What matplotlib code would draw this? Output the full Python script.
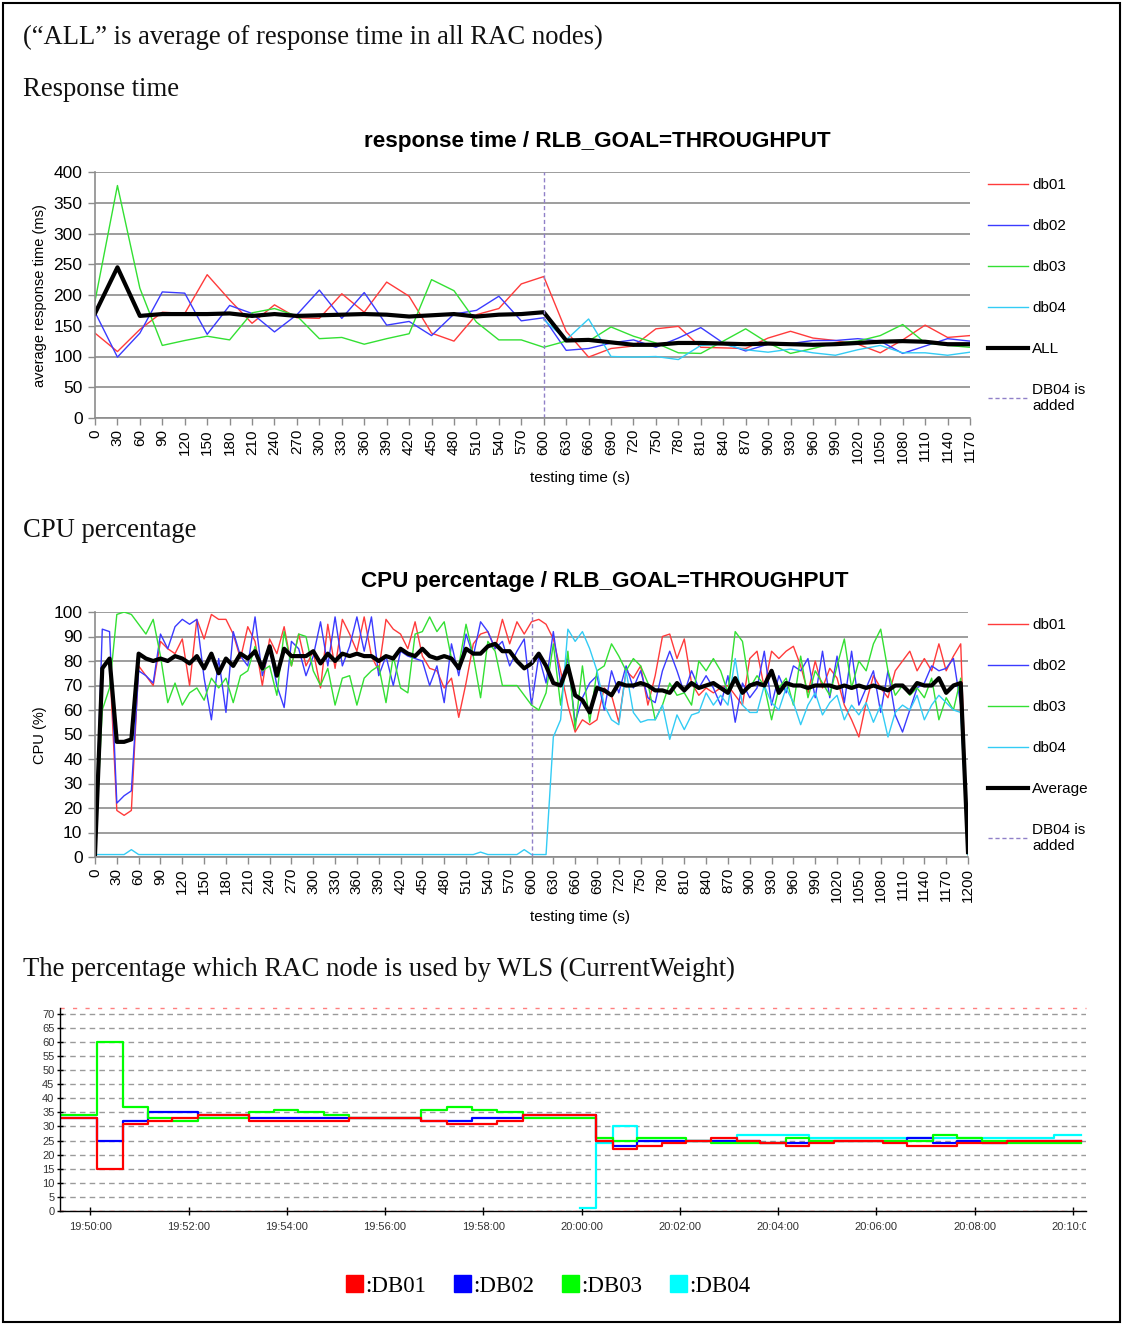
import numpy as np
import pandas as pd
import matplotlib
matplotlib.use("Agg")
import matplotlib.pyplot as plt
import matplotlib.dates as mdates
from matplotlib.patches import Rectangle, Patch
from matplotlib.transforms import Bbox, TransformedBbox

plt.rcParams['font.family'] = ['Liberation Sans', 'DejaVu Sans']
SERIF = ['Liberation Serif', 'DejaVu Serif']

W, H = 1122, 1324

# ---------------- response time (ms), one sample every 30 s ----------------
rt_time = list(range(0, 1200, 30))
rt_db01 = [138, 108, 144, 172, 170, 233, 192, 154, 184, 163, 162, 202, 172, 221, 198, 138, 125, 168, 178, 218,
           230, 141, 99, 113, 117, 145, 149, 115, 114, 113, 130, 141, 130, 126, 120, 106, 127, 151, 131, 134]
rt_db02 = [172, 99, 138, 205, 203, 136, 183, 170, 140, 168, 208, 162, 204, 151, 157, 134, 169, 175, 198, 158,
           163, 110, 113, 122, 127, 115, 130, 147, 122, 109, 120, 121, 126, 126, 129, 125, 105, 117, 129, 125]
rt_db03 = [190, 378, 211, 118, 126, 133, 127, 171, 178, 166, 129, 131, 120, 129, 137, 225, 207, 156, 127, 127,
           115, 125, 125, 148, 133, 122, 106, 105, 125, 145, 122, 105, 113, 122, 125, 134, 152, 122, 118, 115]
rt_db04 = [np.nan] * 20 + [160, 127, 161, 100, 99, 100, 95, 118, 120, 111,
                           107, 112, 106, 102, 111, 118, 106, 106, 102, 107]
rt_all = [170, 245, 166, 169, 169, 169, 170, 166, 169, 166, 167, 168, 169, 168, 165, 167, 169, 165, 168, 169,
          172, 126, 127, 123, 119, 119, 122, 122, 121, 120, 121, 120, 119, 120, 122, 124, 125, 124, 120, 120]

# ---------------- CPU percentage, one sample every 10 s ----------------
cpu_time = np.arange(0, 1201, 10)
cpu_db01 = [1, 78, 80, 19, 17, 19, 78, 74, 70, 88, 85, 83, 89, 70, 97, 89, 99, 97, 97, 91,
            81, 94, 88, 70, 89, 83, 94, 78, 91, 78, 84,
            69, 95, 77, 97, 91, 84, 98, 82, 76, 97, 93, 91, 85, 96, 82, 77, 76, 69, 73, 57,
            71, 87, 91, 92, 85, 97, 87, 96, 91, 96,
            97, 95, 89, 76, 62, 51, 56, 54, 56, 69, 66, 55, 76, 73, 78, 62, 74, 90, 91, 81,
            89, 71, 66, 69, 67, 69, 70, 66, 62, 81,
            84, 69, 84, 81, 84, 86, 78, 67, 80, 69, 77, 73, 62, 56, 49, 63, 74, 69, 65, 76,
            80, 84, 76, 81, 76, 87, 76, 82, 87, 1]
cpu_db02 = [1, 93, 92, 22, 25, 27, 76, 74, 71, 91, 85, 94, 97, 95, 97, 73, 56, 81, 59, 92,
            82, 78, 98, 74, 85, 70, 61, 88, 85, 74, 82,
            96, 78, 98, 78, 86, 98, 84, 98, 74, 82, 70, 84, 82, 81, 80, 70, 78, 63, 87, 74,
            91, 82, 96, 92, 85, 88, 78, 84, 89, 62,
            82, 71, 92, 71, 81, 55, 65, 71, 74, 60, 76, 67, 78, 69, 76, 65, 63, 76, 84, 76,
            67, 76, 69, 74, 69, 62, 74, 55, 71, 65,
            69, 84, 62, 74, 67, 78, 76, 81, 65, 84, 65, 82, 63, 84, 62, 69, 76, 59, 76, 58,
            51, 60, 69, 71, 78, 76, 77, 81, 62, 1]
cpu_db03 = [1, 60, 69, 99, 100, 99, 95, 91, 97, 82, 63, 71, 62, 67, 69, 64, 73, 69, 73, 63,
            74, 76, 86, 76, 78, 66, 92, 78, 91, 90, 76,
            70, 77, 62, 73, 74, 62, 73, 76, 78, 63, 82, 69, 67, 91, 92, 98, 92, 96, 81, 78,
            95, 82, 65, 88, 84, 70, 70, 70, 66, 62,
            60, 67, 87, 62, 84, 52, 78, 55, 76, 78, 87, 82, 76, 81, 78, 71, 56, 62, 71, 66,
            67, 62, 80, 76, 81, 76, 67, 92, 88, 69,
            74, 70, 56, 69, 73, 62, 82, 65, 76, 71, 66, 78, 89, 69, 80, 76, 87, 93, 76, 66,
            70, 66, 69, 65, 73, 56, 65, 60, 73, 1]
cpu_db04 = [1, 1, 1, 1, 1, 3, 1, 1, 1, 1, 1, 1, 1, 1, 1, 1, 1, 1, 1, 1,
            1, 1, 1, 1, 1, 1, 1, 1, 1, 1, 1,
            1, 1, 1, 1, 1, 1, 1, 1, 1, 1, 1, 1, 1, 1, 1, 1, 1, 1, 1, 1,
            1, 1, 2, 1, 1, 1, 1, 1, 3, 1,
            1, 1, 49, 56, 93, 88, 92, 85, 76, 62, 56, 54, 76, 59, 55, 56, 56, 62, 48, 58,
            52, 58, 59, 67, 62, 66, 62, 81, 62, 59,
            59, 70, 63, 60, 69, 63, 54, 62, 67, 58, 63, 66, 56, 62, 58, 63, 55, 62, 49, 59,
            62, 60, 66, 56, 62, 66, 63, 60, 59, 1]
cpu_avg = [1, 77, 81, 47, 47, 48, 83, 81, 80, 81, 80, 82, 81, 79, 82, 77, 83, 75, 81, 78,
           83, 81, 84, 77, 86, 74, 85, 82, 82, 82, 84,
           79, 83, 80, 83, 82, 83, 82, 82, 80, 82, 81, 85, 83, 82, 85, 82, 81, 82, 81, 77,
           85, 83, 83, 86, 87, 84, 84, 80, 77, 79,
           83, 78, 71, 70, 78, 66, 64, 59, 69, 68, 66, 71, 70, 70, 71, 70, 68, 68, 67, 71,
           68, 71, 69, 70, 71, 69, 67, 73, 67, 70,
           71, 70, 76, 67, 71, 70, 70, 69, 70, 70, 70, 69, 70, 69, 70, 69, 70, 69, 68, 70,
           70, 67, 71, 70, 70, 73, 67, 70, 71, 2]

db04_added = 600  # s

# ---------------- CurrentWeight (%) per RAC node, value held until next change ----------------
wl_time = ["19:49:24", "19:50:08", "19:50:40", "19:51:10", "19:51:40", "19:52:12", "19:52:43", "19:53:14",
           "19:53:44", "19:54:14", "19:54:46", "19:55:16", "19:56:44", "19:57:16", "19:57:46", "19:58:17",
           "19:58:48", "19:59:16", "19:59:58", "20:00:17", "20:00:38", "20:01:08", "20:01:38", "20:02:08",
           "20:02:38", "20:03:10", "20:03:38", "20:04:10", "20:04:38", "20:05:08", "20:06:08", "20:06:38",
           "20:07:09", "20:07:39", "20:08:09", "20:08:39", "20:09:37", "20:10:10"]
wl_db01 = [33, 15, 31, 32, 33, 34, 34, 32, 32, 32, 32, 33, 32, 31, 31, 32, 34, 34, 34,
           25, 22, 23, 24, 25, 26, 25, 24, 23, 24, 25, 24, 23, 23, 24, 24, 25, 25, 25]
wl_db02 = [33, 25, 32, 35, 35, 34, 34, 33, 33, 33, 33, 33, 32, 32, 33, 33, 34, 34, 34,
           25, 23, 25, 25, 25, 25, 25, 24, 24, 25, 25, 25, 26, 24, 25, 24, 25, 25, 25]
wl_db03 = [34, 60, 37, 33, 32, 33, 33, 35, 36, 35, 34, 33, 36, 37, 36, 35, 33, 33, 33,
           26, 25, 26, 26, 25, 24, 24, 24, 26, 25, 25, 25, 25, 27, 26, 25, 24, 24, 24]
wl_db04 = [np.nan] * 18 + [1, 24, 30, 25, 25, 25, 25, 27, 27, 27, 26, 26, 26, 26, 26, 26, 26, 26, 27, 27]
wl_tick_labels_fmt = '%H:%M:%S'

c01, c02, c03, c04 = '#ff3b3b', '#3b3bff', '#33e033', '#33ccf5'
c_event = '#9080c8'

fig = plt.figure(figsize=(W / 100, H / 100), dpi=100)


def px_box(x0, y0, x1, y1):
    return [x0 / W, 1 - y1 / H, (x1 - x0) / W, (y1 - y0) / H]


def fy(y):
    return 1 - y / H


# page border and headings
fig.add_artist(Rectangle((3 / W, fy(1322)), 1117 / W, 1319 / H, transform=fig.transFigure,
                         fill=False, ec='black', lw=1.5))
for txt, y in [("(\u201cALL\u201d is average of response time in all RAC nodes)", 37),
               ("Response time", 90),
               ("CPU percentage", 530),
               ("The percentage which RAC node is used by WLS (CurrentWeight)", 969)]:
    fig.text(23 / W, fy(y), txt, family=SERIF, fontsize=19.2, va='center', ha='left', color='#111111')


def excel_style(ax, ymax, ystep):
    ax.set_ylim(0, ymax)
    ax.set_yticks(np.arange(0, ymax + 1, ystep))
    ax.grid(axis='y', color='#8c8c8c', lw=1.2)
    ax.set_axisbelow(True)
    for s in ['top', 'right']:
        ax.spines[s].set_visible(False)
    for s in ['left', 'bottom']:
        ax.spines[s].set_color('#8c8c8c')
        ax.spines[s].set_linewidth(1.2)
    ax.tick_params(axis='both', color='#8c8c8c', length=5, width=1, labelcolor='black')
    ax.tick_params(axis='y', labelsize=12.5, pad=4)
    ax.tick_params(axis='x', labelsize=11, labelrotation=90, pad=3)


def right_legend(ax, top_px):
    ax.legend(loc='upper left', bbox_to_anchor=(988 / W, fy(top_px)), bbox_transform=fig.transFigure,
              frameon=False, fontsize=11, labelspacing=1.77, handlelength=2.6, handletextpad=0.3,
              borderpad=0, borderaxespad=0)


# ---------------- chart 1: response time ----------------
ax1 = fig.add_axes(px_box(95, 172, 970, 418))
ax1.plot(rt_time, rt_db01, color=c01, lw=1, label='db01')
ax1.plot(rt_time, rt_db02, color=c02, lw=1, label='db02')
ax1.plot(rt_time, rt_db03, color=c03, lw=1, label='db03')
ax1.plot(rt_time, rt_db04, color=c04, lw=1, label='db04')
ax1.plot(rt_time, rt_all, color='black', lw=3, label='ALL')
ax1.axvline(db04_added, color=c_event, ls=(0, (3, 2)), lw=1, label='DB04 is\nadded')
ax1.set_xlim(rt_time[0], rt_time[-1])
excel_style(ax1, 400, 50)
ax1.set_xticks(rt_time)
right_legend(ax1, 178)
fig.text(597 / W, fy(141), "response time / RLB_GOAL=THROUGHPUT", ha='center', va='center',
         fontsize=16.2, weight='bold')
fig.text(40 / W, fy(296), "average response time (ms)", rotation=90, ha='center', va='center', fontsize=10.5)
fig.text(580 / W, fy(478), "testing time (s)", ha='center', va='center', fontsize=11)

# ---------------- chart 2: CPU ----------------
ax2 = fig.add_axes(px_box(95, 612, 968, 857))
ax2.plot(cpu_time, cpu_db01, color=c01, lw=1, label='db01')
ax2.plot(cpu_time, cpu_db02, color=c02, lw=1, label='db02')
ax2.plot(cpu_time, cpu_db03, color=c03, lw=1, label='db03')
ax2.plot(cpu_time, cpu_db04, color=c04, lw=1, label='db04')
ax2.plot(cpu_time, cpu_avg, color='black', lw=3, label='Average')
ax2.axvline(db04_added, color=c_event, ls=(0, (3, 2)), lw=1, label='DB04 is\nadded')
ax2.set_xlim(cpu_time[0], cpu_time[-1])
excel_style(ax2, 100, 10)
ax2.set_xticks(np.arange(0, 1201, 30))
right_legend(ax2, 618)
fig.text(605 / W, fy(581), "CPU percentage / RLB_GOAL=THROUGHPUT", ha='center', va='center',
         fontsize=16.2, weight='bold')
fig.text(40 / W, fy(735), "CPU (%)", rotation=90, ha='center', va='center', fontsize=10.5)
fig.text(580 / W, fy(917), "testing time (s)", ha='center', va='center', fontsize=11)

# ---------------- chart 3: CurrentWeight ----------------
ax3 = fig.add_axes(px_box(60, 1008, 1086, 1211))
wl_t = pd.to_datetime(wl_time, format='%H:%M:%S')
ax3.step(wl_t, wl_db04, where='post', color='#00ffff', lw=1.6)
ax3.step(wl_t, wl_db02, where='post', color='#0000ff', lw=1.6)
ax3.step(wl_t, wl_db03, where='post', color='#00ff00', lw=1.6)
ax3.step(wl_t, wl_db01, where='post', color='#ff0000', lw=1.6)
ax3.set_xlim(pd.Timestamp('1900-01-01 19:49:23'), pd.Timestamp('1900-01-01 20:10:16'))
ax3.set_ylim(0, 72)
ax3.set_yticks(np.arange(0, 71, 5))
ax3.grid(axis='y', color='#9a9a9a', lw=1, ls=(0, (4, 3)))
ax3.set_axisbelow(True)
ax3.axhline(72, color='#ff8080', lw=1, ls=(0, (3, 6)), clip_on=False)
ax3.axhline(0, color='#ff8080', lw=1, ls=(0, (3, 6)), zorder=3)
ax3.xaxis.set_major_locator(mdates.MinuteLocator(byminute=range(0, 60, 2)))
ax3.xaxis.set_major_formatter(mdates.DateFormatter(wl_tick_labels_fmt))
for s in ['top', 'right']:
    ax3.spines[s].set_visible(False)
for s in ['left', 'bottom']:
    ax3.spines[s].set_color('black')
    ax3.spines[s].set_linewidth(1)
ax3.tick_params(axis='both', direction='inout', length=6, width=1, color='black',
                labelsize=8, labelcolor='#333333')
ax3.tick_params(axis='x', pad=5)
ax3.tick_params(axis='y', length=4, pad=2)

handles = [Patch(color='#ff0000'), Patch(color='#0000ff'), Patch(color='#00ff00'), Patch(color='#00ffff')]
fig.legend(handles, [':DB01', ':DB02', ':DB03', ':DB04'], loc='center', bbox_to_anchor=(548 / W, fy(1286)),
           ncol=4, frameon=False, prop={'family': SERIF, 'size': 16.5}, handlelength=0.75, handleheight=0.75,
           handletextpad=0.1, columnspacing=1.2)

fig.canvas.draw()
clip = TransformedBbox(Bbox.from_extents(0, 0, 1086 / W, 1), fig.transFigure)
for lab in ax3.get_xticklabels():
    lab.set_clip_box(clip)
    lab.set_clip_on(True)

fig.savefig('out.png', dpi=100)
